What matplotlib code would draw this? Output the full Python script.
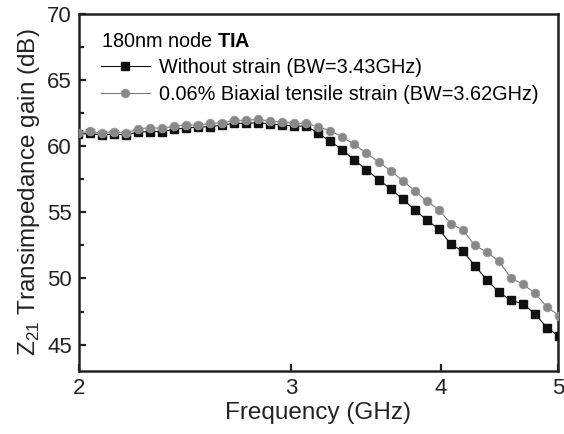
import matplotlib
matplotlib.use("Agg")
import matplotlib.pyplot as plt
from matplotlib.ticker import FixedLocator, NullLocator, FixedFormatter

plt.rcParams['font.family'] = ['Liberation Sans', 'DejaVu Sans']
plt.rcParams['mathtext.fontset'] = 'custom'
plt.rcParams['mathtext.rm'] = 'Liberation Sans'
plt.rcParams['mathtext.bf'] = 'Liberation Sans:bold'

# frequency points (GHz), log sweep
freq = [1.995, 2.042, 2.089, 2.138, 2.188, 2.239, 2.291, 2.344, 2.399, 2.455,
        2.512, 2.570, 2.630, 2.692, 2.754, 2.818, 2.884, 2.951, 3.020, 3.090,
        3.162, 3.236, 3.311, 3.388, 3.467, 3.548, 3.631, 3.715, 3.802, 3.890,
        3.981, 4.074, 4.169, 4.266, 4.365, 4.467, 4.571, 4.677, 4.786, 4.898,
        5.012]

# without strain (dB)
gain_nostrain = [60.90, 60.96, 60.86, 60.90, 60.86, 61.06, 61.10, 61.10, 61.27, 61.37,
                 61.45, 61.47, 61.60, 61.73, 61.73, 61.78, 61.67, 61.60, 61.52, 61.52,
                 60.97, 60.36, 59.73, 58.94, 58.23, 57.47, 56.78, 56.00, 55.20, 54.43,
                 53.74, 52.60, 52.05, 50.98, 49.89, 48.97, 48.34, 48.09, 47.33, 46.27,
                 45.63]

# 0.06% biaxial tensile strain (dB)
gain_strain = [61.00, 61.11, 61.00, 61.10, 61.00, 61.30, 61.40, 61.35, 61.50, 61.60,
               61.60, 61.72, 61.78, 61.95, 61.95, 62.03, 61.90, 61.83, 61.73, 61.73,
               61.46, 61.17, 60.68, 60.13, 59.47, 58.81, 58.15, 57.39, 56.64, 55.85,
               55.21, 54.14, 53.67, 52.50, 51.99, 51.31, 50.04, 49.56, 48.90, 47.83,
               47.20]

fig = plt.figure(figsize=(5.64, 4.34), dpi=100)
ax = fig.add_axes([0.140, 0.145, 0.849, 0.823])

ax.plot(freq, gain_nostrain, '-s', color='#111111', lw=0.8, ms=5.4,
        mfc='#111111', mec='#111111', label='Without strain (BW=3.43GHz)', zorder=3)
ax.plot(freq, gain_strain, '-o', color='#7a7a7a', lw=0.8, ms=6.2,
        mfc='#888888', mec='#9a9a9a', mew=0.6,
        label='0.06% Biaxial tensile strain (BW=3.62GHz)', zorder=4)

ax.set_xscale('log')
ax.set_xlim(2, 5)
ax.set_ylim(43, 70)
ax.xaxis.set_major_locator(FixedLocator([2, 3, 4, 5]))
ax.xaxis.set_major_formatter(FixedFormatter(['2', '3', '4', '5']))
ax.xaxis.set_minor_locator(NullLocator())
ax.yaxis.set_major_locator(FixedLocator([45, 50, 55, 60, 65, 70]))
ax.yaxis.set_minor_locator(FixedLocator([47.5, 52.5, 57.5, 62.5, 67.5]))

ax.tick_params(which='both', direction='in', top=False, right=False,
               labelsize=16, width=1.6, colors='#222222')
ax.tick_params(which='major', length=5, pad=5)
ax.tick_params(which='minor', length=3.5)
for s in ax.spines.values():
    s.set_linewidth(1.8)
    s.set_color('#222222')

ax.set_xlabel('Frequency (GHz)', fontsize=17.5, color='#222222', labelpad=2)
ax.set_ylabel('Z$_{21}$ Transimpedance gain (dB)', fontsize=17.5, color='#222222', labelpad=4)

leg = ax.legend(title='180nm node $\\mathbf{TIA}$', loc='upper left',
                bbox_to_anchor=(0.008, 1.0), frameon=False, fontsize=14.3,
                title_fontsize=14.3, alignment='left', handlelength=2.5,
                handletextpad=0.45, labelspacing=0.38, borderaxespad=0.6,
                borderpad=0.3)

fig.savefig('out.png', dpi=100)
